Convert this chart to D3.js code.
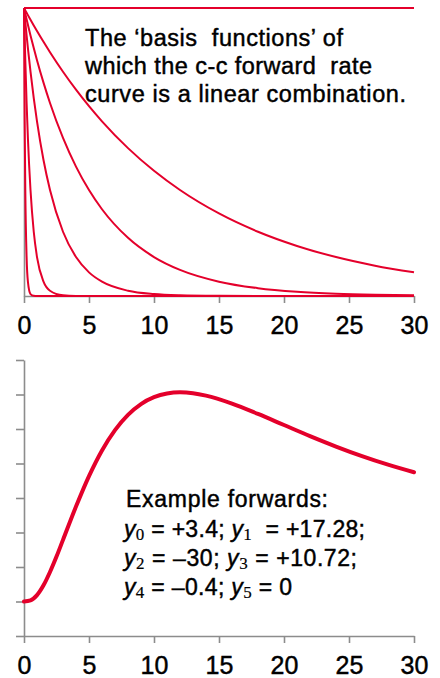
<!DOCTYPE html>
<html>
<head>
    <script src="https://cdn.jsdelivr.net/npm/d3@7/dist/d3.min.js" type="text/javascript"></script>
    <style>
        body { margin: 0; background: #fff; }
        text { font-family: "Liberation Sans", Arial, sans-serif; white-space: pre; fill: #000; stroke: #000; stroke-width: 0.45px; }
    </style>
</head>
<body>
    <div id="viz"></div>
    <script type="text/javascript">

    var basisTimes = [0, 0.05, 0.1, 0.2, 0.3, 0.5, 0.75, 1, 1.5, 2, 3, 4, 5, 6, 8, 10, 12, 15, 18, 21, 24, 27, 30];

    // basis functions, top panel (height 1 at t = 0)
    var basisFlat = [1, 1, 1, 1, 1, 1, 1, 1, 1, 1, 1, 1, 1, 1, 1, 1, 1, 1, 1, 1, 1, 1, 1];
    var basis12 = [1, 0.9958, 0.9917, 0.9835, 0.9753, 0.9592, 0.9394, 0.92, 0.8825, 0.8465, 0.7788, 0.7165, 0.6592, 0.6065, 0.5134, 0.4346, 0.3679, 0.2865, 0.2231, 0.1738, 0.1353, 0.1054, 0.0821];
    var basis5 = [1, 0.99, 0.9802, 0.9608, 0.9418, 0.9048, 0.8607, 0.8187, 0.7408, 0.6703, 0.5488, 0.4493, 0.3679, 0.3012, 0.2019, 0.1353, 0.0907, 0.0498, 0.0273, 0.015, 0.0082, 0.0045, 0.0025];
    var basis2 = [1, 0.9753, 0.9512, 0.9048, 0.8607, 0.7788, 0.6873, 0.6065, 0.4724, 0.3679, 0.2231, 0.1353, 0.0821, 0.0498, 0.0183, 0.0067, 0.0025, 0.0006, 0.0001, 0, 0, 0, 0];
    var basisHalf = [1, 0.9048, 0.8187, 0.6703, 0.5488, 0.3679, 0.2231, 0.1353, 0.0498, 0.0183, 0.0025, 0.0003, 0, 0, 0, 0, 0, 0, 0, 0, 0, 0, 0];
    var basisTenth = [1, 0.6065, 0.3679, 0.1353, 0.0498, 0.0067, 0.0006, 0, 0, 0, 0, 0, 0, 0, 0, 0, 0, 0, 0, 0, 0, 0, 0];
    var basisSeries = [basisFlat, basis12, basis5, basis2, basisHalf, basisTenth];

    // example forward curve, bottom panel
    var fwdTimes = [0, 0.5, 1, 1.5, 2, 2.5, 3, 4, 5, 6, 7, 8, 9, 10, 11, 12, 13, 14, 16, 18, 20, 22, 24, 26, 28, 30];
    var fwdValues = [1.0, 1.032, 1.184, 1.469, 1.855, 2.302, 2.786, 3.752, 4.635, 5.379, 5.969, 6.411, 6.723, 6.922, 7.029, 7.062, 7.037, 6.967, 6.736, 6.436, 6.115, 5.794, 5.492, 5.214, 4.965, 4.745];

    var xTicks = [0, 5, 10, 15, 20, 25, 30];
    var yTicksBottom = [0, 1, 2, 3, 4, 5, 6, 7, 8];

    var noteTop = ["The \u2018basis  functions\u2019 of", "which the c-c forward  rate", "curve is a linear combination."];
    var noteTopWidths = [258, 287, 321];

    var noteHead = "Example forwards:";
    var noteRows = [
        [["y", "0", " = +3.4; "], ["y", "1", "  = +17.28;"]],
        [["y", "2", " = \u201330; "], ["y", "3", " = +10.72;"]],
        [["y", "4", " = \u20130.4; "], ["y", "5", " = 0"]]
    ];
    var noteRowWidths = [241, 233, 168];

    var red = "#e4002b", grey = "#8c8c8c";

    var svg = d3.select("#viz")
        .append("svg")
        .attr("width", 440)
        .attr("height", 678);

    var x = d3.scaleLinear().domain([0, 30]).range([24, 414]);
    var yTop = d3.scaleLinear().domain([0, 1]).range([296, 8]);
    var yBot = d3.scaleLinear().domain([0, 8]).range([636, 360]);

    function styleAxis(g) {
        g.select(".domain").attr("stroke", grey).attr("stroke-width", 1.6);
        g.selectAll(".tick line").attr("stroke", grey).attr("stroke-width", 1.6);
        g.selectAll(".tick text").style("font-size", "25px")
            .style("font-family", "'Liberation Sans', Arial, sans-serif");
    }

    // ---- top panel ----
    var topPanel = svg.append("g");

    topPanel.append("g")
        .attr("transform", "translate(24,0)")
        .call(d3.axisLeft(yTop).tickValues([]).tickSizeOuter(0))
        .call(styleAxis);

    topPanel.append("g")
        .attr("transform", "translate(0,296)")
        .call(d3.axisBottom(x).tickValues(xTicks).tickSize(7).tickSizeOuter(0).tickPadding(13))
        .call(styleAxis);

    var lineTop = d3.line()
        .x(function(d, i) { return x(basisTimes[i]); })
        .y(function(d) { return yTop(d); })
        .curve(d3.curveMonotoneX);

    topPanel.selectAll("path.basis")
        .data(basisSeries)
        .enter().append("path")
        .attr("class", "basis")
        .attr("d", lineTop)
        .attr("fill", "none")
        .attr("stroke", red)
        .attr("stroke-width", 2);

    topPanel.selectAll("text.note")
        .data(noteTop)
        .enter().append("text")
        .attr("class", "note")
        .attr("x", 85)
        .attr("y", function(d, i) { return 46 + i * 28; })
        .attr("textLength", function(d, i) { return noteTopWidths[i]; })
        .attr("lengthAdjust", "spacing")
        .style("font-size", "23.5px")
        .text(function(d) { return d; });

    // ---- bottom panel ----
    var botPanel = svg.append("g");

    botPanel.append("g")
        .attr("transform", "translate(24,0)")
        .call(d3.axisLeft(yBot).tickValues(yTicksBottom).tickSize(8).tickSizeOuter(0).tickFormat(""))
        .call(styleAxis);

    botPanel.append("g")
        .attr("transform", "translate(0,636)")
        .call(d3.axisBottom(x).tickValues(xTicks).tickSize(7).tickSizeOuter(0).tickPadding(13))
        .call(styleAxis);

    var lineBot = d3.line()
        .x(function(d, i) { return x(fwdTimes[i]); })
        .y(function(d) { return yBot(d); })
        .curve(d3.curveMonotoneX);

    botPanel.append("path")
        .datum(fwdValues)
        .attr("d", lineBot)
        .attr("fill", "none")
        .attr("stroke", red)
        .attr("stroke-width", 4)
        .attr("stroke-linecap", "round");

    botPanel.append("text")
        .attr("x", 126)
        .attr("y", 507)
        .attr("textLength", 202)
        .attr("lengthAdjust", "spacing")
        .style("font-size", "23px")
        .text(noteHead);

    noteRows.forEach(function(row, r) {
        var t = botPanel.append("text")
            .attr("x", 124)
            .attr("y", 537 + r * 29)
            .attr("textLength", noteRowWidths[r])
            .attr("lengthAdjust", "spacing")
            .style("font-size", "23px");
        row.forEach(function(part) {
            t.append("tspan").style("font-style", "italic").text(part[0]);
            t.append("tspan")
                .style("font-family", "'Liberation Serif', 'DejaVu Serif', serif")
                .style("font-size", "17px")
                .style("stroke-width", "0.2px")
                .attr("dy", 3)
                .text(part[1]);
            t.append("tspan").attr("dy", -3).text(part[2]);
        });
    });

    </script>
</body>
</html>
